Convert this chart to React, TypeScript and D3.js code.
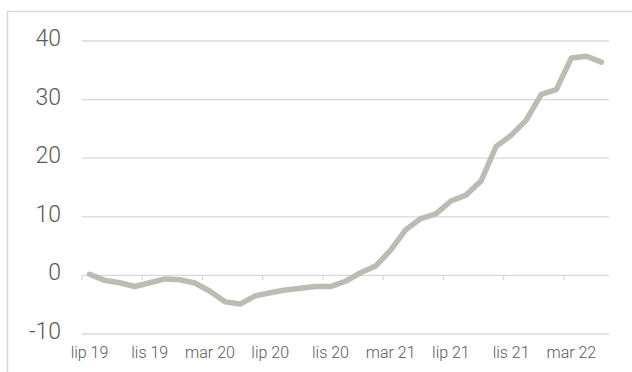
import React from "react";
import * as d3 from "d3";

const months = [
  "lip 19", "sie 19", "wrz 19", "paź 19", "lis 19", "gru 19",
  "sty 20", "lut 20", "mar 20", "kwi 20", "maj 20", "cze 20",
  "lip 20", "sie 20", "wrz 20", "paź 20", "lis 20", "gru 20",
  "sty 21", "lut 21", "mar 21", "kwi 21", "maj 21", "cze 21",
  "lip 21", "sie 21", "wrz 21", "paź 21", "lis 21", "gru 21",
  "sty 22", "lut 22", "mar 22", "kwi 22", "maj 22",
];

const values = [
  0.2, -0.85, -1.25, -1.9, -1.25, -0.6,
  -0.75, -1.3, -2.7, -4.5, -4.9, -3.5,
  -2.95, -2.5, -2.2, -1.9, -1.9, -1.0,
  0.45, 1.6, 4.3, 7.8, 9.7, 10.5,
  12.7, 13.7, 16.1, 22.0, 23.9, 26.5,
  30.9, 31.7, 37.1, 37.4, 36.4,
];

const yTicks = [-10, 0, 10, 20, 30, 40];
const labelEvery = 4;

export default function App() {
  const W = 632;
  const H = 372;
  const x = d3.scaleBand<number>().domain(d3.range(months.length)).range([82, 609]).padding(0);
  const y = d3.scaleLinear().domain([-10, 40]).range([334, 41]);
  const bw = x.bandwidth();
  const cx = (i: number) => (x(i) as number) + bw / 2;
  const line = d3
    .line<number>()
    .x((_, i) => cx(i))
    .y((d) => y(d));
  const tickIdx = d3.range(0, months.length, labelEvery);
  const grid = "#d9d9d9";
  const textCol = "#595959";

  return (
    <svg
      width={W}
      height={H}
      style={{ position: "absolute", left: 0, top: 0, background: "#fff" }}
    >
      <rect x={0} y={0} width={W} height={H} fill="#fff" />
      {/* frame */}
      <line x1={7.5} y1={11.5} x2={W} y2={11.5} stroke={grid} strokeWidth={1.5} />
      <line x1={7.5} y1={11.5} x2={7.5} y2={H} stroke={grid} strokeWidth={1.5} />
      {/* gridlines */}
      {yTicks.map((t) => (
        <line
          key={"g" + t}
          x1={82}
          x2={609}
          y1={y(t)}
          y2={y(t)}
          stroke={grid}
          strokeWidth={1.3}
        />
      ))}
      {/* ticks on zero line */}
      {tickIdx.map((i) => (
        <line
          key={"t" + i}
          x1={x(i) as number}
          x2={x(i) as number}
          y1={y(0)}
          y2={y(0) + 4.5}
          stroke={grid}
          strokeWidth={1.3}
        />
      ))}
      {/* y labels */}
      {yTicks.map((t) => (
        <text
          key={"yl" + t}
          x={61}
          y={y(t) - 1}
          textAnchor="end"
          dominantBaseline="middle"
          fontFamily="Roboto, 'Noto Sans', sans-serif"
          fontWeight={300}
          fontSize={23}
          fill={textCol}
        >
          {t}
        </text>
      ))}
      {/* x labels */}
      {tickIdx.map((i) => (
        <text
          key={"xl" + i}
          x={cx(i)}
          y={357.5}
          textAnchor="middle"
          fontFamily="Roboto, 'Noto Sans', sans-serif"
          fontWeight={300}
          fontSize={16}
          fill={textCol}
        >
          {months[i]}
        </text>
      ))}
      <path
        d={line(values) || ""}
        fill="none"
        stroke="#bcbdb2"
        strokeWidth={5.5}
        strokeLinejoin="round"
        strokeLinecap="round"
      />
    </svg>
  );
}
